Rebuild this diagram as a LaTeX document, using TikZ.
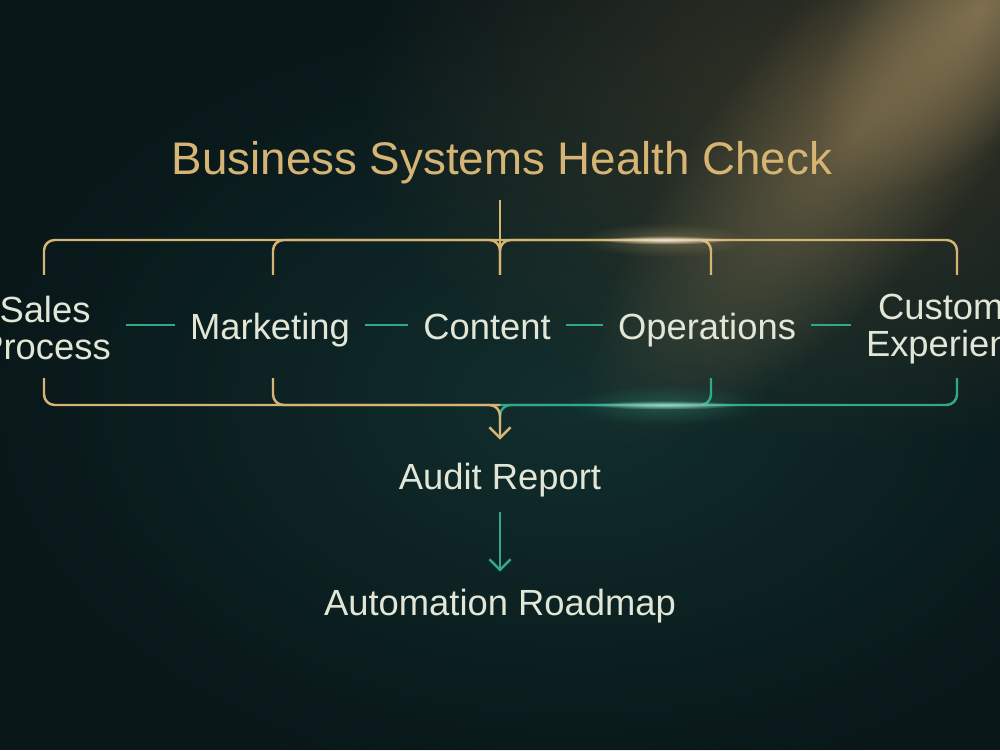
\documentclass[tikz,border=0pt]{standalone}
\usepackage{fontspec}
\setmainfont{Liberation Sans}
\usetikzlibrary{arrows.meta, fadings, positioning}
\definecolor{fond}{RGB}{9,23,25}
\definecolor{fondvert}{RGB}{20,52,50}
\definecolor{brun}{RGB}{72,64,44}
\definecolor{lumiere}{RGB}{165,142,98}
\definecolor{or}{RGB}{214,180,116}
\definecolor{vert}{RGB}{50,168,138}
\definecolor{creme}{RGB}{226,230,214}
\tikzfading[name=doux, inner color=transparent!0, outer color=transparent!100]
\tikzstyle{etape} = [text=creme, font=\fontsize{20.7}{21}\selectfont, inner sep=0pt, text height=20pt, text depth=4pt]
\tikzstyle{etape2} = [text=creme, font=\fontsize{20.7}{21}\selectfont, inner sep=0pt, align=center]
\tikzstyle{trait} = [draw=or, line width=1.4pt, rounded corners=6pt]
\tikzstyle{trait2} = [draw=vert, line width=1.4pt, rounded corners=6pt]
\tikzstyle{lien} = [draw=vert, line width=1.4pt, shorten <=0.3cm, shorten >=0.3cm]
\tikzstyle{fleche} = [-{Straight Barb[length=6pt,width=12pt]}, draw=or, line width=1.4pt, rounded corners=6pt]
\tikzstyle{fleche2} = [-{Straight Barb[length=6pt,width=12pt]}, draw=vert, line width=1.4pt]
\tikzstyle{halo} = [path fading=doux]

\begin{document}
\begin{tikzpicture}
	\useasboundingbox (0,0) rectangle (20,15);
	\clip (0,0) rectangle (20,15);
	\fill[fond] (0,0) rectangle (20,15);
	\fill[fondvert, halo, opacity=0.8] (11.5,7) ellipse (12 and 8);
	\fill[brun, halo, opacity=0.7] (17,13) ellipse (10 and 7);
	\fill[lumiere, halo, opacity=0.45, transform canvas={shift={(17.2,12.4)}, rotate=50}] (0,0) ellipse (8 and 2.6);
	\fill[lumiere, halo, opacity=0.6, transform canvas={shift={(19.6,14.8)}, rotate=50}] (0,0) ellipse (4.5 and 2.2);

	\node[etape, text=or, font=\fontsize{26}{28}\selectfont] (titre) at (10.04,11.8) {Business Systems Health Check};

	\node[etape2] (vente) at (0.9,8.44) {Sales\\Process};
	\node[etape] (mkt) at (5.4,8.5) {Marketing};
	\node[etape] (contenu) at (9.74,8.5) {Content};
	\node[etape] (ops) at (14.14,8.5) {Operations};
	\node[etape2] (client) at (19.14,8.42) {Customer\\Experience};

	\node[etape] (audit) at (10,5.5) {Audit Report};
	\node[etape] (route) at (10,2.98) {Automation Roadmap};

	\coordinate (hautV) at (0.88,9.5);
	\coordinate (hautM) at (5.46,9.5);
	\coordinate (hautC) at (10,9.5);
	\coordinate (hautO) at (14.22,9.5);
	\coordinate (hautE) at (19.14,9.5);
	\coordinate (centre) at (10,10.2);

	\coordinate (basV) at (0.88,7.44);
	\coordinate (basM) at (5.46,7.44);
	\coordinate (basO) at (14.22,7.44);
	\coordinate (basE) at (19.14,7.44);
	\coordinate (centre2) at (10,6.9);

	\draw[trait, shorten <=0.38cm] (hautC |- titre.south) -- (hautC);
	\draw[trait] (hautV) |- (centre) -- (hautC);
	\draw[trait] (hautE) |- (centre) -- (hautC);
	\draw[trait] (hautM) |- (centre);
	\draw[trait] (hautO) |- (centre);

	\draw[lien] (vente.east |- mkt) -- (mkt);
	\draw[lien] (mkt) -- (contenu);
	\draw[lien] (contenu) -- (ops);
	\draw[lien] (ops) -- (client.west |- ops);

	\draw[trait2, shorten >=0.52cm] (basE) |- (centre2) -- (audit);
	\draw[trait2] (basO) |- (centre2);
	\draw[trait] (basM) |- (centre2);
	\draw[fleche, shorten >=0.28cm] (basV) |- (centre2) -- (audit);
	\draw[fleche2, shorten <=0.32cm, shorten >=0.16cm] (audit) -- (route);

	% reflets
	\fill[or, halo, opacity=0.3] (13.3,10.2) ellipse (1.7 and 0.35);
	\fill[or!40!white, halo] (13.3,10.2) ellipse (1.3 and 0.09);
	\fill[vert, halo, opacity=0.3] (13.3,6.9) ellipse (2 and 0.4);
	\fill[vert!50!white, halo] (13.3,6.9) ellipse (1.5 and 0.09);
\end{tikzpicture}
\end{document}
